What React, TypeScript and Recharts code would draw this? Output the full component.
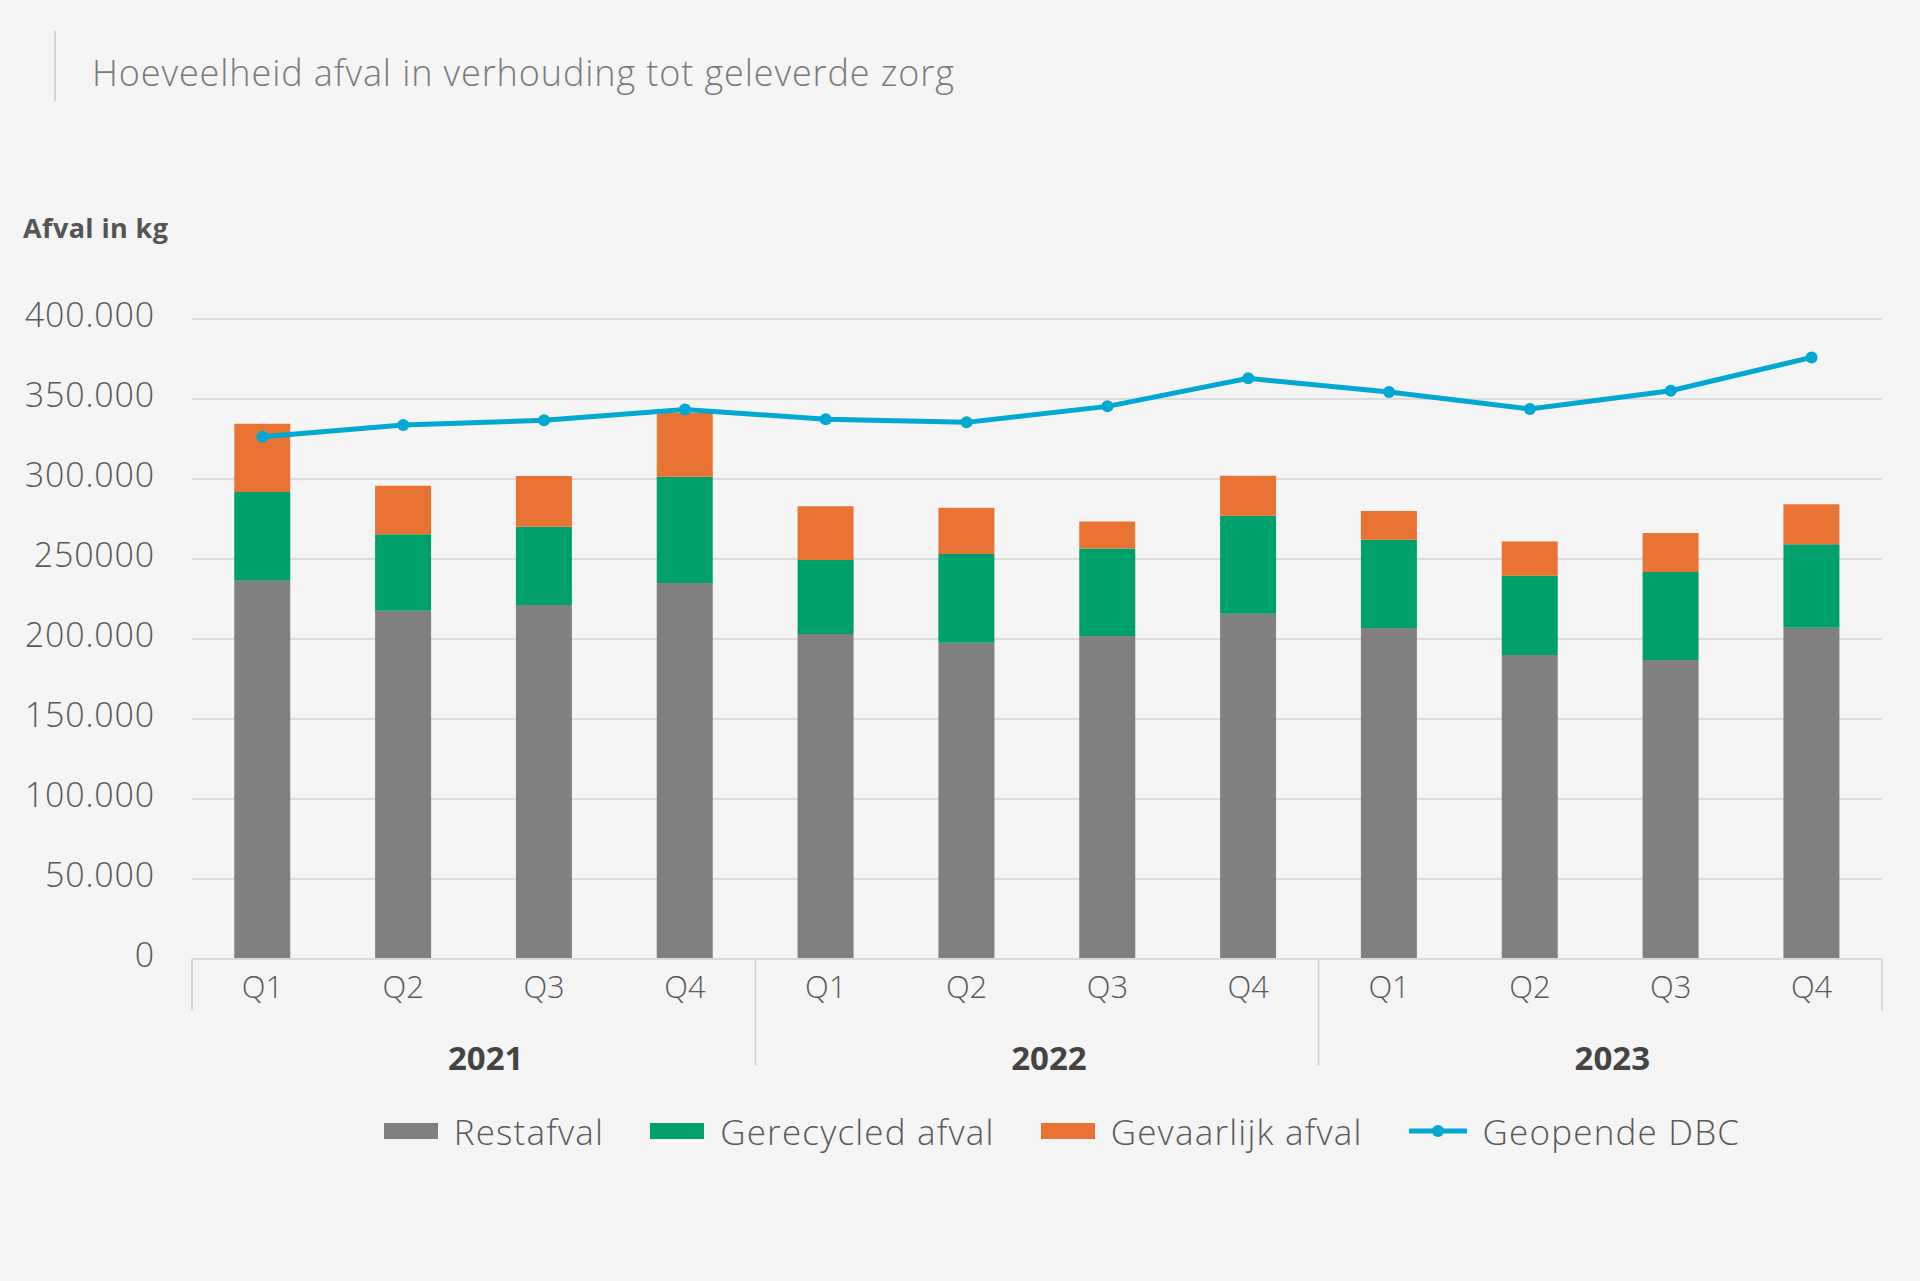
import React from "react";
import {
  ComposedChart,
  Bar,
  Line,
  XAxis,
  YAxis,
  CartesianGrid,
  Legend,
} from "recharts";

const quarters = ["Q1", "Q2", "Q3", "Q4", "Q1", "Q2", "Q3", "Q4", "Q1", "Q2", "Q3", "Q4"];
const years = ["2021", "2022", "2023"];

const restafval = [236400, 217700, 221300, 235000, 203100, 197700, 201900, 215800, 206900, 190000, 186900, 207100];
const gerecycled = [55500, 47700, 48900, 66400, 46200, 55400, 54600, 61200, 55200, 49600, 55000, 52100];
const gevaarlijk = [42700, 30400, 31700, 40000, 33700, 29000, 17000, 25100, 17900, 21400, 24300, 25000];
const geopendeDbc = [326400, 333700, 336700, 343500, 337300, 335400, 345400, 362900, 354400, 343700, 355200, 376000];

const yTicks = [0, 50000, 100000, 150000, 200000, 250000, 300000, 350000, 400000];
const yTickLabels = ["0", "50.000", "100.000", "150.000", "200.000", "250000", "300.000", "350.000", "400.000"];

const data = quarters.map((q, i) => ({
  q,
  restafval: restafval[i],
  gerecycled: gerecycled[i],
  gevaarlijk: gevaarlijk[i],
  dbc: geopendeDbc[i],
}));

const FONT = "'Open Sans', 'Noto Sans', sans-serif";
const GREY = "#808080";
const GREEN = "#00a06a";
const ORANGE = "#e87332";
const BLUE = "#00a8d2";
const TEXT = "#5a5a5a";
const HALF = 1690 / 24; // half a category width

function QuarterTick(props: any) {
  const { x, y, payload, index } = props;
  const group = Math.floor(index / 4);
  return (
    <g>
      <text x={x} y={y + 31} textAnchor="middle" dominantBaseline="middle" fill={TEXT} fontSize={31} fontFamily={FONT} fontWeight={300}>
        {payload.value}
      </text>
      {index % 4 === 0 && (
        <line x1={x - HALF} x2={x - HALF} y1={y} y2={index === 0 ? y + 51 : y + 106} stroke="#d9d9d9" strokeWidth={2} />
      )}
      {index === quarters.length - 1 && (
        <line x1={x + HALF} x2={x + HALF} y1={y} y2={y + 51} stroke="#d9d9d9" strokeWidth={2} />
      )}
      {index % 4 === 1 && (
        <text x={x + HALF + 12} y={y + 102} textAnchor="middle" dominantBaseline="middle" fill="#444" fontSize={33} fontWeight={700} fontFamily={FONT}>
          {years[group]}
        </text>
      )}
    </g>
  );
}

function LegendContent() {
  const items = [
    { name: "Restafval", color: GREY, line: false },
    { name: "Gerecycled afval", color: GREEN, line: false },
    { name: "Gevaarlijk afval", color: ORANGE, line: false },
    { name: "Geopende DBC", color: BLUE, line: true },
  ];
  return (
    <div style={{ display: "flex", justifyContent: "center", alignItems: "center", height: 40, paddingLeft: 204, gap: 46, fontFamily: FONT }}>
      {items.map((it) => (
        <div key={it.name} style={{ display: "flex", alignItems: "center", gap: 16 }}>
          {it.line ? (
            <svg width={58} height={20}>
              <line x1={0} x2={58} y1={10} y2={10} stroke={it.color} strokeWidth={5} />
              <circle cx={29} cy={10} r={6} fill={it.color} />
            </svg>
          ) : (
            <div style={{ width: 54, height: 16, background: it.color }} />
          )}
          <span style={{ fontSize: 35, color: TEXT, fontWeight: 300, letterSpacing: 1.2 }}>{it.name}</span>
        </div>
      ))}
    </div>
  );
}

export default function App() {
  return (
    <div style={{ position: "absolute", left: 0, top: 0, width: 1920, height: 1281, background: "#f5f5f5" }}>
      <div style={{ position: "absolute", left: 54, top: 31, width: 2, height: 70, background: "#d6d6d6" }} />
      <div style={{ position: "absolute", left: 92, top: 50, fontFamily: FONT, fontSize: 36, fontWeight: 300, color: "#7a7a7a", lineHeight: "46px", letterSpacing: 0.9 }}>
        Hoeveelheid afval in verhouding tot geleverde zorg
      </div>
      <div style={{ position: "absolute", left: 23, top: 211, fontFamily: FONT, fontSize: 27, fontWeight: 700, color: "#555", lineHeight: "34px", letterSpacing: 0.4 }}>
        Afval in kg
      </div>
      <ComposedChart
        width={1920}
        height={1281}
        data={data}
        margin={{ top: 319, right: 38, bottom: 130, left: 0 }}
        barCategoryGap="30%"
      >
        <CartesianGrid vertical={false} stroke="#dcdcdc" strokeWidth={2} />
        <XAxis
          dataKey="q"
          height={152}
          tickLine={false}
          tickSize={0}
          tickMargin={0}
          axisLine={{ stroke: "#d9d9d9", strokeWidth: 2 }}
          tick={<QuarterTick />}
          interval={0}
        />
        <YAxis
          width={192}
          domain={[0, 400000]}
          ticks={yTicks}
          tickLine={false}
          axisLine={false}
          tickSize={0}
          tickMargin={37}
          tickFormatter={(v: number) => yTickLabels[yTicks.indexOf(v)]}
          tick={{ fill: TEXT, fontSize: 34, fontFamily: FONT, fontWeight: 300, letterSpacing: 0.8, dy: -4 }}
        />
        <Bar dataKey="restafval" name="Restafval" stackId="a" fill={GREY} isAnimationActive={false} />
        <Bar dataKey="gerecycled" name="Gerecycled afval" stackId="a" fill={GREEN} isAnimationActive={false} />
        <Bar dataKey="gevaarlijk" name="Gevaarlijk afval" stackId="a" fill={ORANGE} isAnimationActive={false} />
        <Line
          dataKey="dbc"
          name="Geopende DBC"
          stroke={BLUE}
          strokeWidth={5}
          dot={{ r: 6, fill: BLUE, stroke: BLUE, strokeWidth: 0 }}
          activeDot={false}
          isAnimationActive={false}
        />
        <Legend verticalAlign="bottom" content={<LegendContent />} wrapperStyle={{ left: 0, width: 1920 }} />
      </ComposedChart>
    </div>
  );
}
